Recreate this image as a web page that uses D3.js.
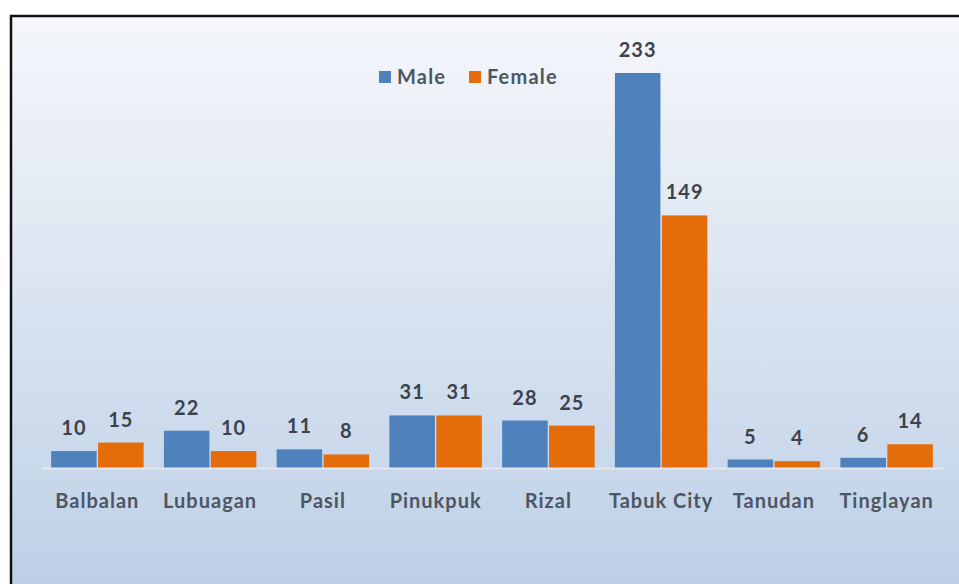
<!DOCTYPE html>
<html>
<head>
<meta charset="UTF-8">
<title></title>
<script src="https://cdn.jsdelivr.net/npm/d3@7"></script>
<style>
  body { margin: 0; background: #fff; }
  text { font-family: Lato, "Open Sans", sans-serif; font-weight: bold; }
</style>
</head>
<body>
<div id="chart"></div>
<script>
// data
var categories = ["Balbalan", "Lubuagan", "Pasil", "Pinukpuk", "Rizal", "Tabuk City", "Tanudan", "Tinglayan"];
var seriesNames = ["Male", "Female"];
var male = [10, 22, 11, 31, 28, 233, 5, 6];
var female = [15, 10, 8, 31, 25, 149, 4, 14];
var colors = ["#4f81bd", "#e46c0a"];

var width = 959, height = 584;
var plot = { left: 41, right: 943, top: 73, bottom: 468 };

var svg = d3.select("#chart").append("svg")
  .attr("width", width)
  .attr("height", height);

// background gradient
var grad = svg.append("defs").append("linearGradient")
  .attr("id", "bg").attr("x1", 0).attr("y1", 0).attr("x2", 0).attr("y2", 1);
grad.append("stop").attr("offset", "0%").attr("stop-color", "#f5f7fb");
grad.append("stop").attr("offset", "100%").attr("stop-color", "#bccfe6");

svg.append("rect")
  .attr("x", 11).attr("y", 16)
  .attr("width", width).attr("height", height)
  .attr("fill", "url(#bg)")
  .attr("stroke", "#111").attr("stroke-width", 2.5);

// scales
var x0 = d3.scaleBand().domain(categories)
  .range([plot.left, plot.right])
  .paddingInner(0.18).paddingOuter(0.09);
var x1 = d3.scaleBand().domain(seriesNames)
  .range([0, x0.bandwidth()])
  .paddingInner(0.03);
var y = d3.scaleLinear().domain([0, 233])
  .range([plot.bottom, plot.top]);

var rows = categories.map(function(c, i) {
  return { cat: c, vals: [male[i], female[i]] };
});

// bars
var groups = svg.selectAll("g.cat").data(rows).enter().append("g")
  .attr("class", "cat")
  .attr("transform", function(d) { return "translate(" + x0(d.cat) + ",0)"; });

groups.selectAll("rect").data(function(d) {
  return d.vals.map(function(v, j) { return { s: seriesNames[j], v: v, j: j }; });
}).enter().append("rect")
  .attr("x", function(d) { return x1(d.s); })
  .attr("width", x1.bandwidth())
  .attr("y", function(d) { return y(d.v); })
  .attr("height", function(d) { return y(0) - y(d.v); })
  .attr("fill", function(d) { return colors[d.j]; });

// value labels
groups.selectAll("text").data(function(d) {
  return d.vals.map(function(v, j) { return { s: seriesNames[j], v: v }; });
}).enter().append("text")
  .attr("x", function(d) { return x1(d.s) + x1.bandwidth() / 2; })
  .attr("y", function(d) { return y(d.v) - 16; })
  .attr("text-anchor", "middle")
  .attr("font-size", 20)
  .attr("letter-spacing", 1)
  .attr("fill", "#3d434c")
  .text(function(d) { return d.v; });

// x axis
var xAxis = d3.axisBottom(x0).tickSize(0).tickPadding(26);
var gx = svg.append("g")
  .attr("transform", "translate(0," + plot.bottom + ")")
  .call(xAxis);
gx.select(".domain").attr("stroke", "#e4e8ee").attr("stroke-width", 2);
gx.selectAll("text")
  .attr("font-size", 20)
  .attr("letter-spacing", 1)
  .attr("fill", "#4d5663")
  .style("font-family", "Lato, 'Open Sans', sans-serif")
  .style("font-weight", "bold");

// legend
var legend = svg.append("g").attr("transform", "translate(379,71)");
var lx = [0, 90];
seriesNames.forEach(function(name, i) {
  legend.append("rect")
    .attr("x", lx[i]).attr("y", 0)
    .attr("width", 12).attr("height", 12)
    .attr("fill", colors[i]);
  legend.append("text")
    .attr("x", lx[i] + 18).attr("y", 13)
    .attr("font-size", 20)
    .attr("letter-spacing", 1.2)
    .attr("fill", "#4d5663")
    .text(name);
});
</script>
</body>
</html>
